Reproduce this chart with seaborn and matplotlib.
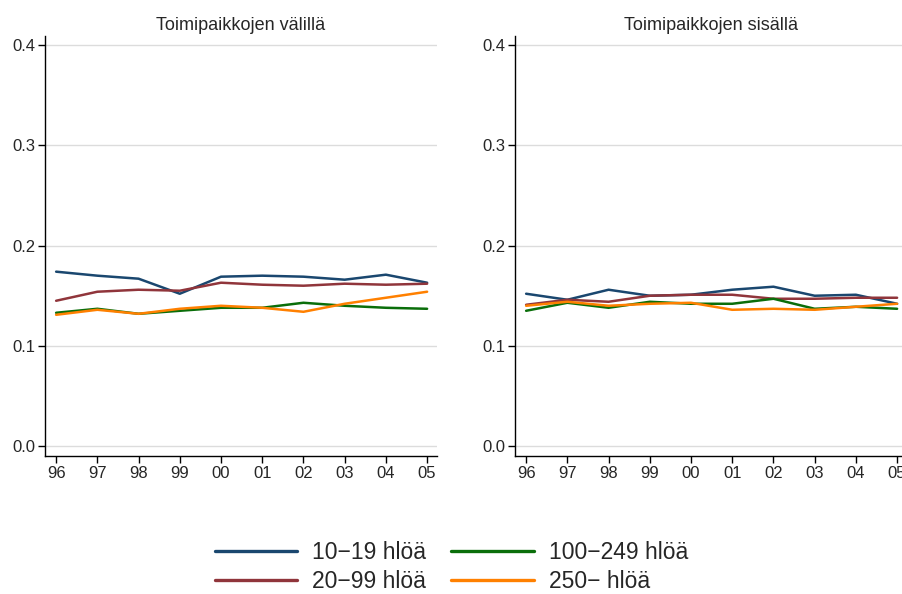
import matplotlib
matplotlib.use("Agg")
import matplotlib.pyplot as plt
import seaborn as sns
import pandas as pd
from matplotlib.lines import Line2D

years = ["96", "97", "98", "99", "00", "01", "02", "03", "04", "05"]
groups = ["10\u221219 hlöä", "20\u221299 hlöä", "100\u2212249 hlöä", "250\u2212 hlöä"]
panels = ["Toimipaikkojen välillä", "Toimipaikkojen sisällä"]

between_10_19 = [0.174, 0.170, 0.167, 0.152, 0.169, 0.170, 0.169, 0.166, 0.171, 0.163]
between_20_99 = [0.145, 0.154, 0.156, 0.155, 0.163, 0.161, 0.160, 0.162, 0.161, 0.162]
between_100_249 = [0.133, 0.137, 0.132, 0.135, 0.138, 0.138, 0.143, 0.140, 0.138, 0.137]
between_250 = [0.131, 0.136, 0.132, 0.137, 0.140, 0.138, 0.134, 0.142, 0.148, 0.154]

within_10_19 = [0.152, 0.146, 0.156, 0.150, 0.151, 0.156, 0.159, 0.150, 0.151, 0.142]
within_20_99 = [0.141, 0.146, 0.144, 0.150, 0.151, 0.151, 0.147, 0.147, 0.148, 0.148]
within_100_249 = [0.135, 0.143, 0.138, 0.144, 0.142, 0.142, 0.147, 0.137, 0.139, 0.137]
within_250 = [0.140, 0.144, 0.140, 0.142, 0.143, 0.136, 0.137, 0.136, 0.139, 0.142]

colors = ["#1a476f", "#90353b", "#0a6e0a", "#ff8000"]
yticks = [0.0, 0.1, 0.2, 0.3, 0.4]

panel_data = [
    [between_10_19, between_20_99, between_100_249, between_250],
    [within_10_19, within_20_99, within_100_249, within_250],
]

sns.set_style("white")
plt.rcParams["font.family"] = ["Liberation Sans", "DejaVu Sans"]

fig = plt.figure(figsize=(9.03, 5.94), dpi=100)
W, H = 903, 594
axes_px = [(45, 36, 392, 420), (515, 36, 392, 420)]

for (x0, y0, w, h), title, series in zip(axes_px, panels, panel_data):
    ax = fig.add_axes([x0 / W, 1 - (y0 + h) / H, w / W, h / H])
    rows = []
    for g, vals in zip(groups, series):
        for i, v in enumerate(vals):
            rows.append({"x": i, "y": v, "group": g})
    df = pd.DataFrame(rows)
    sns.lineplot(data=df, x="x", y="y", hue="group", hue_order=groups,
                 palette=colors, linewidth=1.8, ax=ax, legend=False)
    ax.set_xlim(-0.27, 9.24)
    ax.set_ylim(-0.0098, 0.409)
    ax.set_xticks(range(len(years)))
    ax.set_xticklabels(years)
    ax.set_yticks(yticks)
    ax.set_yticklabels([f"{t:.1f}" for t in yticks])
    ax.yaxis.grid(True, color="#dcdcdc", linewidth=1)
    ax.xaxis.grid(False)
    ax.set_axisbelow(True)
    for s in ["top", "right"]:
        ax.spines[s].set_visible(False)
    for s in ["left", "bottom"]:
        ax.spines[s].set_color("black")
        ax.spines[s].set_linewidth(1)
    ax.tick_params(axis="both", direction="out", length=5, width=1,
                   color="black", labelsize=12, bottom=True, left=True, pad=2)
    ax.set_xlabel("")
    ax.set_ylabel("")
    ax.set_title(title, fontsize=13, pad=4)

handles = [Line2D([0], [0], color=c, linewidth=2.4) for c in colors]
leg = fig.legend(handles, groups, loc="center", ncol=2, frameon=False,
                 fontsize=16.5, handlelength=3.6, columnspacing=1.1,
                 handletextpad=0.65, labelspacing=0.3)
leg.set_bbox_to_anchor((0.5, 1 - 567 / H), transform=fig.transFigure)

fig.savefig("out.png", dpi=100)
